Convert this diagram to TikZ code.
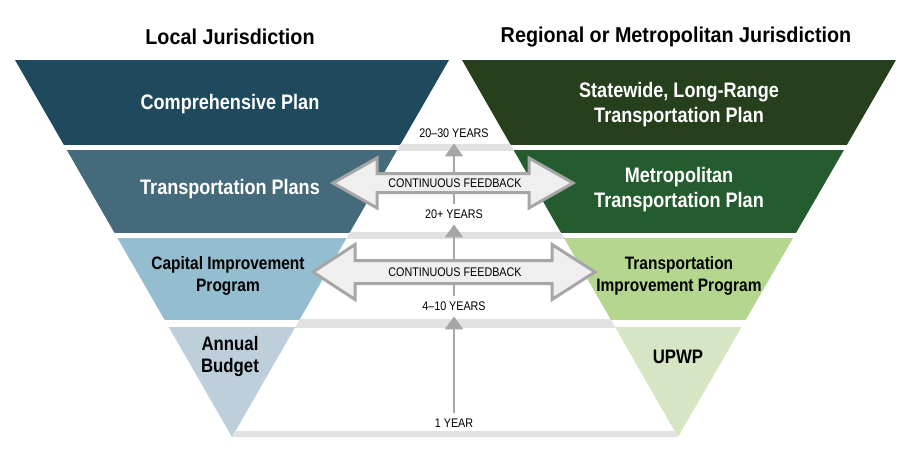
\documentclass[tikz,border=0pt]{standalone}
\usepackage{fontspec}
\setmainfont{Liberation Sans}[FakeStretch=0.86]
\newfontfamily\headfont{Liberation Sans}[FakeStretch=0.92]
\usetikzlibrary{arrows.meta}
\definecolor{cA}{HTML}{1F4A5E}
\definecolor{cB}{HTML}{456A7B}
\definecolor{cC}{HTML}{95BDD0}
\definecolor{cD}{HTML}{BCCFDB}
\definecolor{gA}{HTML}{263F1D}
\definecolor{gB}{HTML}{245B2F}
\definecolor{gC}{HTML}{B4D68E}
\definecolor{gD}{HTML}{D6E5C3}
\definecolor{barc}{HTML}{E2E2E2}
\definecolor{arrc}{HTML}{A6A6A6}
\definecolor{arrf}{HTML}{EFEFEF}
\tikzset{
  head/.style={font=\headfont\bfseries\fontsize{21.5}{24}\selectfont, align=center},
  tierw/.style={font=\bfseries\fontsize{21}{25}\selectfont, text=white, align=center},
  tierk/.style={font=\bfseries\fontsize{18}{22}\selectfont, text=black, align=center},
  tierkb/.style={font=\bfseries\fontsize{19.5}{22}\selectfont, text=black, align=center},
  yrs/.style={font=\fontsize{12.5}{13}\selectfont, text height=8.5pt, text depth=0pt, inner xsep=2pt, inner ysep=6pt},
  fbl/.style={font=\fontsize{12.5}{13}\selectfont, text height=8.5pt, text depth=0pt},
  vline/.style={draw=arrc, line width=2.5pt, -{Triangle[width=18pt,length=13pt]}},
  fbarrow/.style={draw=arrc, fill=arrf, line width=3pt, line join=miter}
}
\begin{document}
\begin{tikzpicture}[x=1pt,y=-1pt]
\useasboundingbox (0,0) rectangle (922,451);
% tiers of the left triangle
\foreach \ya/\yb/\c in {60/144/cA,150/232/cB,238/319/cC,327/437/cD}{
  \begin{scope}
    \clip (0,\ya) rectangle (922,\yb);
    \fill[\c] (15,60) -- (449,60) -- (232,437) -- cycle;
  \end{scope}
}
% tiers of the right triangle
\foreach \ya/\yb/\c in {60/144/gA,150/232/gB,238/319/gC,327/437/gD}{
  \begin{scope}
    \clip (0,\ya) rectangle (922,\yb);
    \fill[\c] (462,60) -- (896,60) -- (678,437) -- cycle;
  \end{scope}
}
% light bars in the middle
\foreach \ya/\yb in {144/150,232/238,319/327,431/437}{
  \begin{scope}
    \clip (0,\ya) rectangle (922,\yb);
    \fill[barc] (449,60) -- (462,60) -- (678,437) -- (232,437) -- cycle;
  \end{scope}
}
% headings
\node[head] (hl) at (230,37) {Local Jurisdiction};
\node[head] (hr) at (676,37) {Regional or Metropolitan Jurisdiction};
% tier texts
\node[tierw] (t1) at (230,104) {Comprehensive Plan};
\node[tierw] (t2) at (230,189) {Transportation Plans};
\node[tierk] (t3) at (228,276) {Capital Improvement\\Program};
\node[tierkb] (t4) at (230,356) {Annual\\Budget};
\node[tierw] (r1) at (679,104.5) {Statewide, Long-Range\\Transportation Plan};
\node[tierw] (r2) at (679,189.5) {Metropolitan\\Transportation Plan};
\node[tierk] (r3) at (679,276) {Transportation\\Improvement Program};
\node[tierkb] (r4) at (678,357) {UPWP};
% year labels
\node[yrs] (y30) at (454,133) {20–30 YEARS};
\node[yrs] (y20) at (454,214) {20+ YEARS};
\node[yrs] (y4) at (454,306) {4–10 YEARS};
\node[yrs] (y1) at (454,423) {1 YEAR};
% vertical time arrows
\draw[vline] (y1.north) -- (y4.south);
\draw[vline] (y4.north) -- (y20.south);
\draw[vline] (y20.north) -- (y30.south);
% continuous feedback arrows
\draw[fbarrow] (333,183) -- (377,158) -- (377,173.5) -- (529,173.5) -- (529,158) -- (573,183)
  -- (529,208) -- (529,192.5) -- (377,192.5) -- (377,208) -- cycle;
\node[fbl] (f1) at (455,183) {CONTINUOUS FEEDBACK};
\draw[fbarrow] (313,272) -- (355,244.5) -- (355,260.5) -- (552,260.5) -- (552,244.5) -- (595,272)
  -- (552,299.5) -- (552,283.5) -- (355,283.5) -- (355,299.5) -- cycle;
\node[fbl] (f2) at (455,272) {CONTINUOUS FEEDBACK};
\end{tikzpicture}
\end{document}
